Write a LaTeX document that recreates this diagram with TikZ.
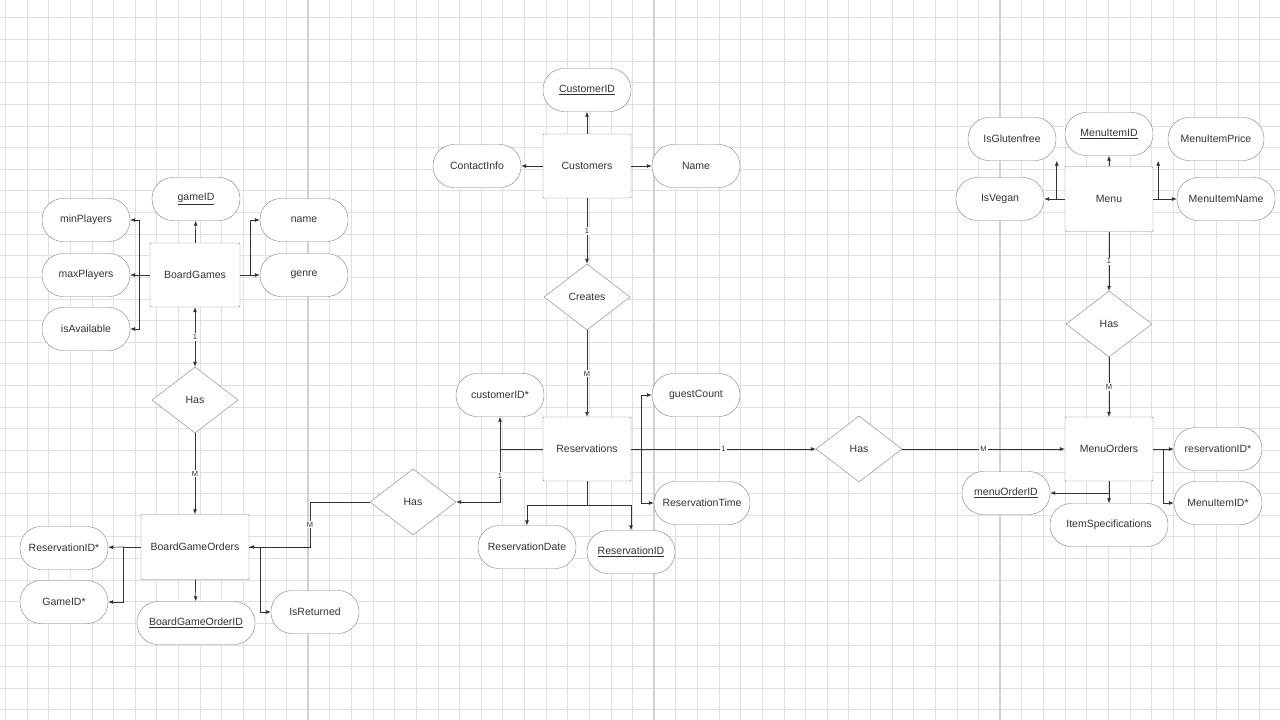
\documentclass[tikz,border=0pt]{standalone}
\usepackage{fontspec}
\setmainfont{Liberation Sans}
\usetikzlibrary{shapes.geometric,arrows.meta}
\begin{document}
\begin{tikzpicture}[x=1pt,y=-1pt,
  every node/.style={font=\fontsize{10.5}{12}\selectfont,text=black!80},
  ent/.style={draw=black!50,fill=white,minimum width=88pt,minimum height=64pt,rounded corners=1pt},
  att/.style={draw=black!50,fill=white,rounded corners=21pt,minimum width=88pt,minimum height=43pt},
  rel/.style={draw=black!50,fill=white,diamond,aspect=1.3,minimum width=86pt,minimum height=66pt,inner sep=0pt},
  con/.style={draw=black!80,line width=0.7pt},
  arr/.style={con,-{Latex[length=5pt,width=4pt]}},
  card/.style={fill=white,inner sep=1pt,font=\fontsize{7.5}{8}\selectfont}]
\useasboundingbox (0,0) rectangle (1280,720);
\fill[white] (0,0) rectangle (1280,720);
\foreach \i in {0,...,60} {\draw[black!12,line width=0.5pt] ({-38+21.625*\i},0) -- ({-38+21.625*\i},720);}
\foreach \i in {0,...,34} {\draw[black!12,line width=0.5pt] (0,{-4+21.625*\i}) -- (1280,{-4+21.625*\i});}
\foreach \x in {308,654,1000} {\draw[black!18,line width=1.2pt] (\x,0) -- (\x,720);}
% entities
\node[ent,minimum width=90pt] (bg) at (195,275) {BoardGames};
\node[ent,minimum width=108pt,minimum height=65pt] (bgo) at (195,547) {BoardGameOrders};
\node[ent] (cu) at (587,166) {Customers};
\node[ent] (re) at (587,449) {Reservations};
\node[ent,minimum height=65pt] (me) at (1109,199) {Menu};
\node[ent] (mo) at (1109,449) {MenuOrders};
% relationships
\node[rel] (h1) at (195,400) {Has};
\node[rel] (cr) at (587,297) {Creates};
\node[rel] (h2) at (413,502) {Has};
\node[rel] (h3) at (859,449) {Has};
\node[rel] (h4) at (1109,324) {Has};
% attributes
\node[att] (gid) at (196,199) {\underline{gameID}};
\node[att] (minp) at (86,220) {minPlayers};
\node[att] (maxp) at (86,275) {maxPlayers};
\node[att] (isav) at (86,329) {isAvailable};
\node[att] (nm) at (304,220) {name};
\node[att] (ge) at (304,275) {genre};
\node[att] (rid1) at (64,548) {ReservationID*};
\node[att] (gid2) at (64,602) {GameID*};
\node[att,minimum width=118pt] (bgoid) at (196,623) {\underline{BoardGameOrderID}};
\node[att] (isr) at (315,612) {IsReturned};
\node[att] (cid) at (587,90) {\underline{CustomerID}};
\node[att] (ci) at (477,166) {ContactInfo};
\node[att] (cn) at (696,166) {Name};
\node[att] (cid2) at (500,395) {customerID*};
\node[att] (gc) at (696,395) {guestCount};
\node[att,minimum width=96pt] (rt) at (702,503) {ReservationTime};
\node[att,minimum width=98pt] (rd) at (527,547) {ReservationDate};
\node[att] (rid) at (631,552) {\underline{ReservationID}};
\node[att] (mid) at (1109,134) {\underline{MenuItemID}};
\node[att] (glu) at (1012,139) {IsGlutenfree};
\node[att,minimum width=96pt] (mp) at (1216,139) {MenuItemPrice};
\node[att] (veg) at (1000,199) {IsVegan};
\node[att,minimum width=98pt] (mn) at (1226,199) {MenuItemName};
\node[att] (rid3) at (1218,449) {reservationID*};
\node[att] (mid2) at (1218,503) {MenuItemID*};
\node[att] (moid) at (1006,493) {\underline{menuOrderID}};
\node[att,minimum width=118pt] (isp) at (1109,525) {ItemSpecifications};
% BoardGames
\draw[arr] (bg) -- (gid);
\draw[con] (bg.west) -- ++(-10,0) coordinate (bgw);
\draw[arr] (bgw) |- (minp); \draw[arr] (bgw) -- (maxp); \draw[arr] (bgw) |- (isav);
\draw[con] (bg.east) -- ++(10,0) coordinate (bge);
\draw[arr] (bge) |- (nm); \draw[arr] (bge) -- (ge);
\draw[arr,{Latex[length=5pt,width=4pt]}-{Latex[length=5pt,width=4pt]}] (bg) -- node[card]{1} (h1);
\draw[arr] (h1) -- node[card]{M} (bgo);
\draw[con] (bgo.west) -- ++(-17,0) coordinate (bgow);
\draw[arr] (bgow) -- (rid1); \draw[arr] (bgow) |- (gid2);
\draw[arr] (bgo) -- (bgoid);
\draw[con] (bgo.east) -- ++(11,0) coordinate (bgoe);
\draw[arr] (bgoe) |- (isr);
% Has (res - bgo)
\draw[con] (h2.west) -- (310,502) coordinate (hw);
\draw[arr] (hw) -- node[card]{M} (hw |- bgo.east) -- (bgo.east);
\draw[con] (re.west) -- (500,449) coordinate (rw);
\draw[arr] (rw) -- (cid2);
\draw[arr] (rw) -- node[card]{1} (rw |- h2.east) -- (h2.east);
% Customers
\draw[arr] (cu) -- (cid);
\draw[arr] (cu) -- (ci);
\draw[arr] (cu) -- (cn);
\draw[arr] (cu) -- node[card]{1} (cr);
\draw[arr] (cr) -- node[card]{M} (re);
% Reservations
\draw[con] (re.east) -- ++(10,0) coordinate (rex);
\draw[arr] (rex) |- (gc); \draw[arr] (rex) |- (rt);
\draw[con] (re.south) -- ++(0,24) coordinate (res);
\draw[arr] (res) -| (rd); \draw[arr] (res) -| (rid);
\draw[arr] (re) -- node[card,pos=0.5]{1} (h3);
\draw[arr] (h3) -- node[card,pos=0.5]{M} (mo);
% Menu
\draw[arr] (me) -- (mid);
\draw[con] (me.west) -- ++(-8,0) coordinate (mew);
\draw[arr] (mew) -- (mew |- glu.south east);
\draw[arr] (mew) -- (veg);
\draw[con] (me.east) -- ++(5,0) coordinate (mee);
\draw[arr] (mee) -- (mee |- mp.south west);
\draw[arr] (mee) -- (mn);
\draw[arr] (me) -- node[card]{1} (h4);
\draw[arr] (h4) -- node[card]{M} (mo);
% MenuOrders
\draw[con] (mo.east) -- ++(10,0) coordinate (moe);
\draw[arr] (moe) -- (rid3); \draw[arr] (moe) |- (mid2);
\draw[arr] (mo) -- (isp);
\draw[arr] (mo.south |- moid) -- (moid);
\end{tikzpicture}
\end{document}
